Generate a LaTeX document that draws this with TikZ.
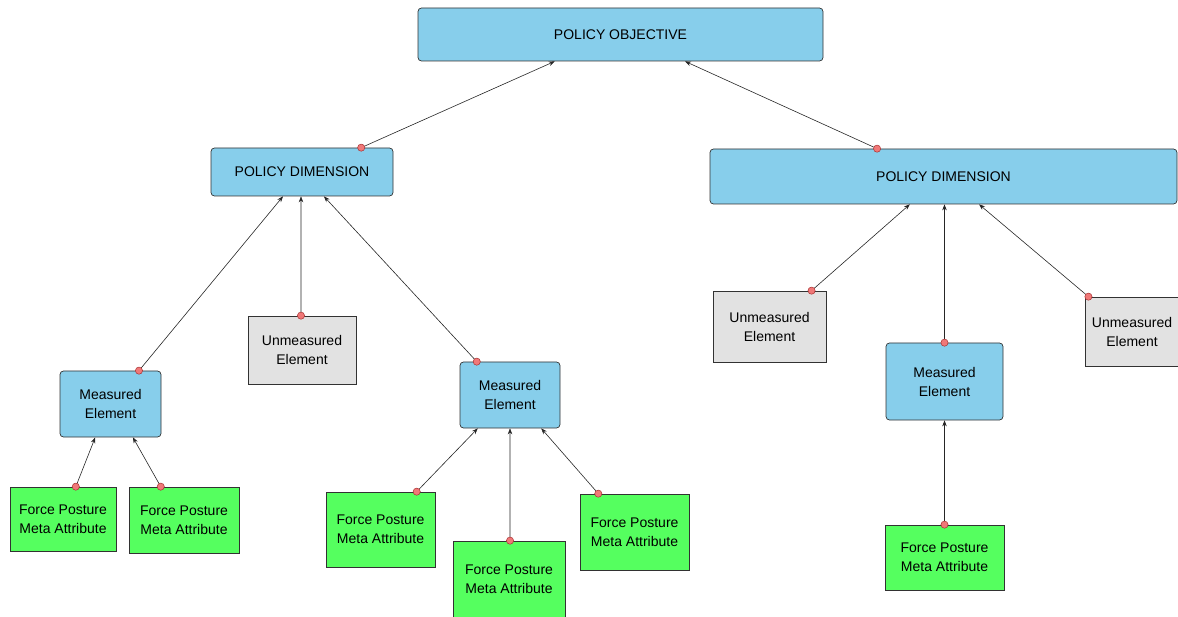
\documentclass[tikz,border=0pt]{standalone}
\usepackage{fontspec}
\setmainfont{Liberation Sans}
\usetikzlibrary{arrows.meta,calc}

\definecolor{boxblue}{RGB}{135,206,235}
\definecolor{boxgreen}{RGB}{85,255,95}
\definecolor{boxgray}{RGB}{226,226,226}
\definecolor{boxline}{RGB}{50,50,50}
\definecolor{dotfill}{RGB}{240,120,120}
\definecolor{dotline}{RGB}{170,50,50}

\newcommand\conn[4]{%
  \draw[link] ($(#1.north west)!#2!(#1.north east)$) -- ($(#3.south west)!#4!(#3.south east)$);
  \filldraw[dot] ($(#1.north west)!#2!(#1.north east)$) circle[radius=3.6pt];}

\begin{document}
\begin{tikzpicture}[x=1pt,y=-1pt,
  every node/.style={font=\fontsize{14}{19}\selectfont, align=center, inner sep=0pt, draw=boxline, line width=0.7pt},
  bluebox/.style={fill=boxblue, rounded corners=3.5pt},
  graybox/.style={fill=boxgray},
  greenbox/.style={fill=boxgreen},
  link/.style={draw=black!85, line width=0.6pt, -{Stealth[length=6pt,width=4.5pt]}},
  dot/.style={fill=dotfill, draw=dotline, line width=0.5pt}]
\useasboundingbox (0,0) rectangle (1178,617);

% top level
\node[bluebox, minimum width=405pt, minimum height=53pt] (obj) at (620.5,34.5) {POLICY OBJECTIVE};

% dimensions
\node[bluebox, minimum width=182pt, minimum height=48pt] (dimL) at (302,172) {POLICY DIMENSION};
\node[bluebox, minimum width=467pt, minimum height=55pt] (dimR) at (943.5,176.5) {POLICY DIMENSION};

% elements
\node[bluebox, minimum width=101pt, minimum height=66pt] (meA) at (110.5,404) {Measured\\Element};
\node[graybox, minimum width=108pt, minimum height=68pt] (ueA) at (302,350) {Unmeasured\\Element};
\node[bluebox, minimum width=100pt, minimum height=66pt] (meB) at (510,395) {Measured\\Element};
\node[graybox, minimum width=113pt, minimum height=71pt] (ueB) at (769.5,326.5) {Unmeasured\\Element};
\node[bluebox, minimum width=117pt, minimum height=77pt] (meC) at (944.5,381.5) {Measured\\Element};
\node[graybox, minimum width=94pt, minimum height=69pt] (ueC) at (1132,331.5) {Unmeasured\\Element};

% meta attributes
\node[greenbox, minimum width=106pt, minimum height=64pt] (fpA) at (63,519) {Force Posture\\Meta Attribute};
\node[greenbox, minimum width=110pt, minimum height=66pt] (fpB) at (184,520) {Force Posture\\Meta Attribute};
\node[greenbox, minimum width=109pt, minimum height=75pt] (fpC) at (380.5,529.5) {Force Posture\\Meta Attribute};
\node[greenbox, minimum width=112pt, minimum height=77pt] (fpD) at (509,579.5) {Force Posture\\Meta Attribute};
\node[greenbox, minimum width=109pt, minimum height=76pt] (fpE) at (634.5,532) {Force Posture\\Meta Attribute};
\node[greenbox, minimum width=119pt, minimum height=65pt] (fpF) at (944.5,557.5) {Force Posture\\Meta Attribute};

% connectors: source, position on its top edge, target, position on its bottom edge
\conn{dimL}{0.824}{obj}{0.338}
\conn{dimR}{0.358}{obj}{0.659}
\conn{meA}{0.78}{dimL}{0.396}
\conn{ueA}{0.4907}{dimL}{0.4945}
\conn{meB}{0.17}{dimL}{0.62}
\conn{fpA}{0.62}{meA}{0.35}
\conn{fpB}{0.29}{meA}{0.72}
\conn{fpC}{0.83}{meB}{0.18}
\conn{fpD}{0.509}{meB}{0.5}
\conn{fpE}{0.17}{meB}{0.81}
\conn{ueB}{0.87}{dimR}{0.428}
\conn{meC}{0.5}{dimR}{0.5021}
\conn{ueC}{0.04}{dimR}{0.576}
\conn{fpF}{0.5}{meC}{0.5}
\end{tikzpicture}
\end{document}
